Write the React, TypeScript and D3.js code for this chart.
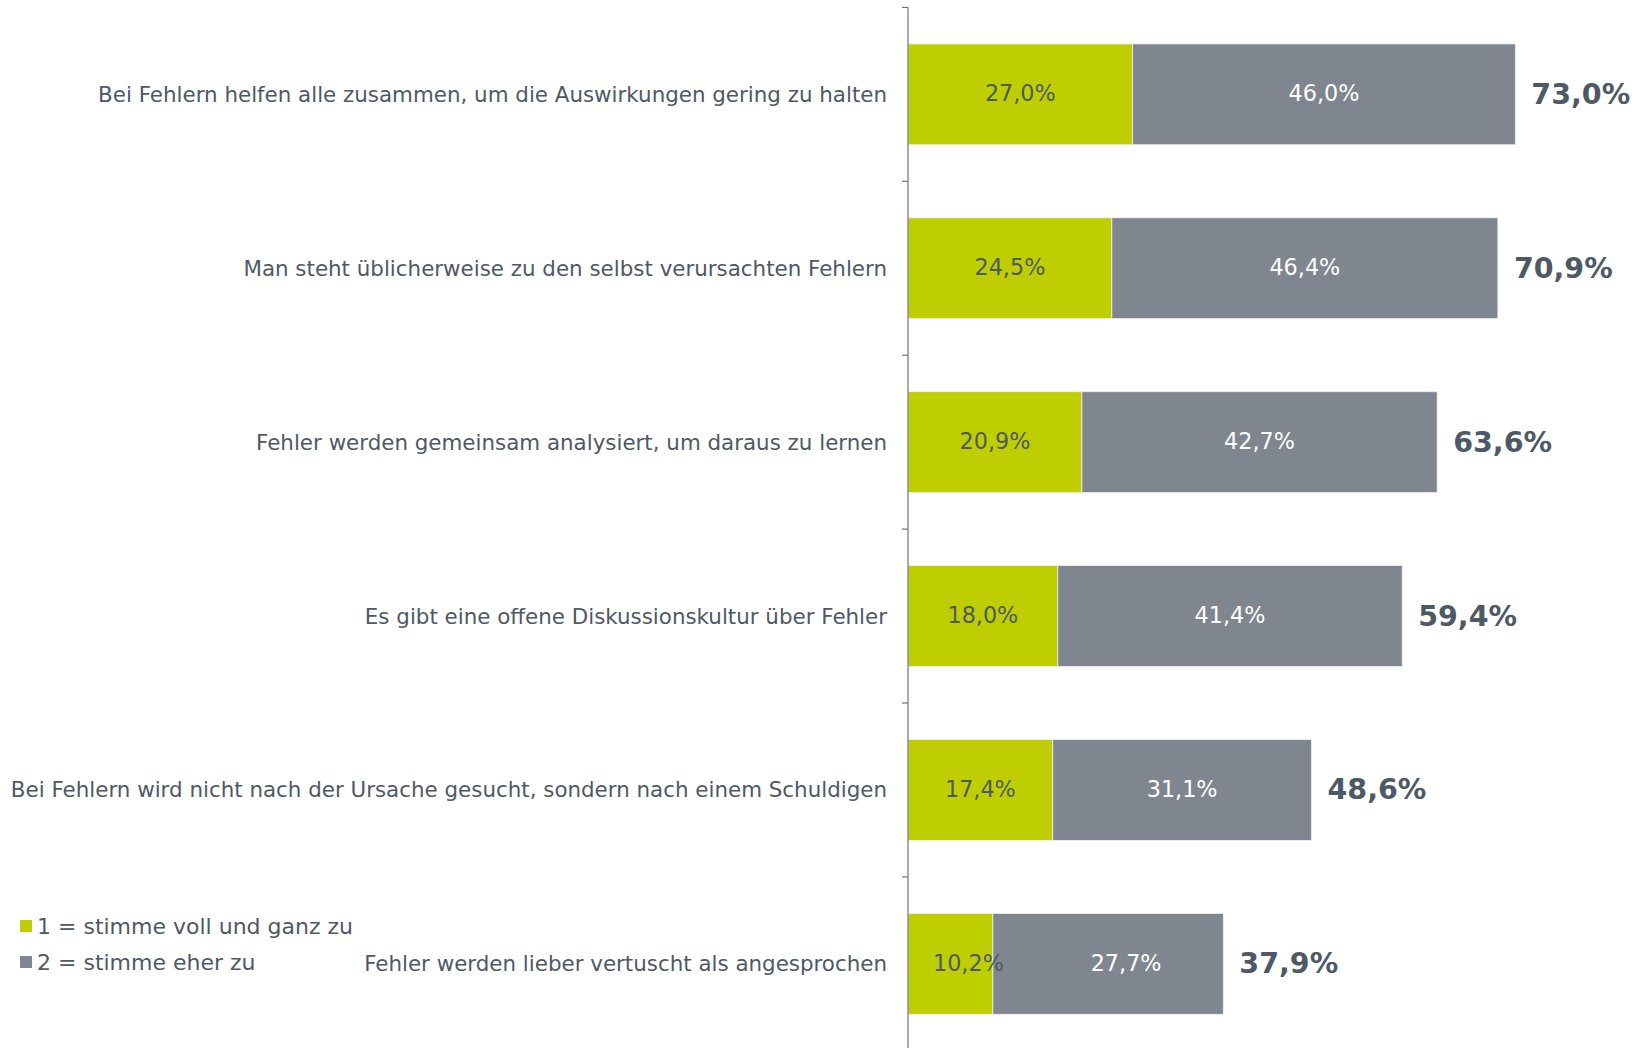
import React from "react";
import * as d3 from "d3";

const categories = [
  "Bei Fehlern helfen alle zusammen, um die Auswirkungen gering zu halten",
  "Man steht üblicherweise zu den selbst verursachten Fehlern",
  "Fehler werden gemeinsam analysiert, um daraus zu lernen",
  "Es gibt eine offene Diskussionskultur über Fehler",
  "Bei Fehlern wird nicht nach der Ursache gesucht, sondern nach einem Schuldigen",
  "Fehler werden lieber vertuscht als angesprochen",
];
const fullyAgree = [27.0, 24.5, 20.9, 18.0, 17.4, 10.2];
const ratherAgree = [46.0, 46.4, 42.7, 41.4, 31.1, 27.7];
const totals = [73.0, 70.9, 63.6, 59.4, 48.6, 37.9];
const legendLabels = ["1 = stimme voll und ganz zu", "2 = stimme eher zu"];

const W = 1643;
const H = 1048;
const GREEN = "#bfce00";
const GRAY = "#7f868f";
const TEXT = "#4e5966";
const FONT = "'DejaVu Sans', Verdana, sans-serif";

const fmt = (v: number) => v.toFixed(1).replace(".", ",") + "%";

export default function App() {
  const axisX = 908;
  const x = d3.scaleLinear().domain([0, 100]).range([axisX, axisX + 832]);
  const y = d3
    .scaleBand<number>()
    .domain(categories.map((_, i) => i))
    .range([7.4, 7.4 + 6 * 173.9])
    .paddingInner(0.42)
    .paddingOuter(0.21);
  const bw = y.bandwidth();
  const step = y.step();
  const tickYs = d3.range(0, 7).map((i) => 7.4 + i * step);
  const innerSize = 22.3;
  const approxLabelW = innerSize * 3.17;

  return (
    <svg
      width={W}
      height={H}
      style={{ position: "absolute", left: 0, top: 0, background: "#fff" }}
      fontFamily={FONT}
    >
      <rect width={W} height={H} fill="#fff" />
      {categories.map((c, i) => {
        const y0 = y(i)!;
        const cy = y0 + bw / 2;
        const g0 = x(0);
        const g1 = x(fullyAgree[i]);
        const r1 = x(fullyAgree[i] + ratherAgree[i]);
        const shift = g1 - g0 < approxLabelW + 20 ? 18 : 0;
        return (
          <g key={i}>
            <text
              x={axisX - 21}
              y={cy}
              textAnchor="end"
              dominantBaseline="central"
              fontSize={21.4}
              fill={TEXT}
            >
              {c}
            </text>
            <rect x={g0} y={y0} width={g1 - g0} height={bw} fill={GREEN} stroke="#f2f2f2" strokeWidth={0.8} />
            <rect x={g1} y={y0} width={r1 - g1} height={bw} fill={GRAY} stroke="#f2f2f2" strokeWidth={0.8} />
            <text
              x={(g0 + g1) / 2 + shift}
              y={cy - 1}
              textAnchor="middle"
              dominantBaseline="central"
              fontSize={innerSize}
              fill={TEXT}
            >
              {fmt(fullyAgree[i])}
            </text>
            <text
              x={(g1 + r1) / 2 + shift}
              y={cy - 1}
              textAnchor="middle"
              dominantBaseline="central"
              fontSize={innerSize}
              fill="#ffffff"
            >
              {fmt(ratherAgree[i])}
            </text>
            <text
              x={r1 + 16}
              y={cy}
              textAnchor="start"
              dominantBaseline="central"
              fontSize={28.5}
              fontWeight="bold"
              fill={TEXT}
            >
              {fmt(totals[i])}
            </text>
          </g>
        );
      })}
      <line x1={axisX} x2={axisX} y1={tickYs[0]} y2={H} stroke="#6d7580" strokeWidth={1.2} />
      {tickYs.map((ty, i) => (
        <line key={i} x1={axisX - 6} x2={axisX} y1={ty} y2={ty} stroke="#6d7580" strokeWidth={1.2} />
      ))}
      {legendLabels.map((l, i) => (
        <g key={l} transform={`translate(20, ${926 + i * 36})`}>
          <rect x={0} y={-6} width={12} height={12} fill={i === 0 ? GREEN : GRAY} />
          <text x={17} y={0} dominantBaseline="central" fontSize={22} fill={TEXT}>
            {l}
          </text>
        </g>
      ))}
    </svg>
  );
}
